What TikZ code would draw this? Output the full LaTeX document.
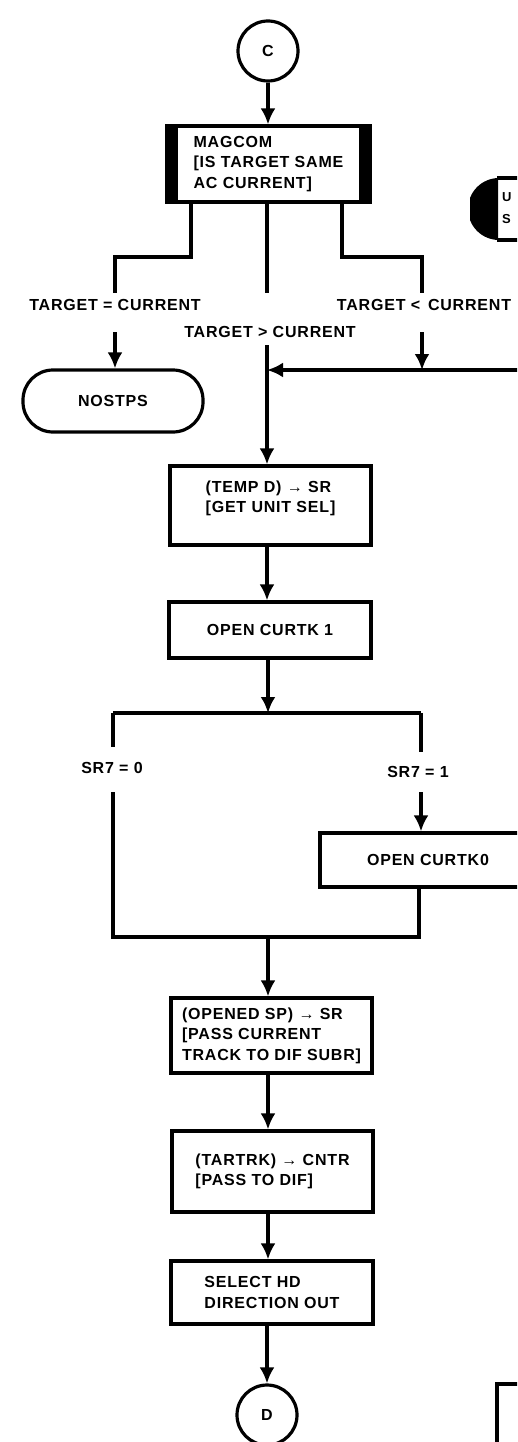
\documentclass[tikz,border=0pt]{standalone}
\usepackage{fontspec}
\setmainfont{Liberation Sans}[LetterSpace=5]
\usetikzlibrary{arrows.meta}
\newcommand{\txt}{\fontsize{16}{20.5}\selectfont\bfseries}
\tikzset{
  ln/.style={line width=3.2pt},
  arr/.style={ln, -{Latex[length=16pt,width=15pt]}},
  box/.style={draw, ln, rectangle, align=left, font=\txt, inner sep=0pt},
  conn/.style={draw, ln, circle, font=\txt, inner sep=0pt, minimum size=60pt},
  term/.style={draw, ln, rectangle, rounded corners=30pt, font=\txt, inner sep=0pt},
  lbl/.style={font=\txt, inner sep=0pt},
}
\begin{document}
\begin{tikzpicture}[x=1pt,y=-1pt]
\useasboundingbox (0,0) rectangle (517,1442);
\begin{scope}
\clip (0,0) rectangle (517,1442);
% nodes
\node[conn] (C) at (268,51) {C};
\node[box, minimum width=203pt, minimum height=76pt] (mag) at (268.5,164)
  {MAGCOM\\{[}IS TARGET SAME\\AC CURRENT{]}};
\fill (mag.north west) rectangle ([xshift=13pt]mag.south west);
\fill (mag.north east) rectangle ([xshift=-13pt]mag.south east);
\node[term, minimum width=180pt, minimum height=62pt] (nostps) at (113,401) {NOSTPS};
\node[box, minimum width=201pt, minimum height=79pt, text depth=18pt] (temp) at (270.5,505.5)
  {(TEMP D) → SR\\{[}GET UNIT SEL{]}};
\node[box, minimum width=202pt, minimum height=56pt] (open1) at (270,630) {OPEN CURTK 1};
\node[box, minimum width=216pt, minimum height=54pt] (open0) at (428,860) {OPEN CURTK0};
\node[box, minimum width=201pt, minimum height=75pt] (opened) at (271.5,1035.5)
  {(OPENED SP) → SR\\{[}PASS CURRENT\\TRACK TO DIF SUBR{]}};
\node[box, minimum width=201pt, minimum height=81pt] (tartrk) at (272.5,1171.5)
  {(TARTRK) → CNTR\\{[}PASS TO DIF{]}};
\node[box, minimum width=202pt, minimum height=63pt] (sel) at (272,1292.5)
  {SELECT HD\\DIRECTION OUT};
\node[conn] (D) at (267,1415) {D};
% labels
\node[lbl] (leq) at (115,305) {TARGET = CURRENT};
\node[lbl] (lgt) at (270,332) {TARGET > CURRENT};
\node[lbl] (llt) at (424,305) {TARGET <\, CURRENT};
\node[lbl] (l0) at (112,768) {SR7 = 0};
\node[lbl] (l1) at (418,772) {SR7 = 1};
% coordinates
\coordinate (eqk) at (191,257);
\coordinate (eqe) at (115,293);
\coordinate (eqs) at (115,332);
\coordinate (gte) at (267,293);
\coordinate (gts) at (267,345);
\coordinate (ltk) at (342,257);
\coordinate (lte) at (422,293);
\coordinate (lts) at (422,332);
\coordinate (join) at (422,370);
\coordinate (rin) at (540,370);
\coordinate (mrg) at (267,370);
\coordinate (split) at (268,713);
\coordinate (sl) at (113,713);
\coordinate (sr) at (421,713);
\coordinate (sle) at (113,747);
\coordinate (sls) at (113,792);
\coordinate (sre) at (421,752);
\coordinate (srs) at (421,792);
\coordinate (bl) at (113,937);
\coordinate (bc) at (268,937);
\coordinate (br) at (419,937);
% connectors
\draw[arr] (C) -- (C |- mag.north);
\draw[ln] (mag.south -| eqk) -- (eqk) -- (eqk -| eqe) -- (eqe);
\draw[ln] (mag.south -| gte) -- (gte);
\draw[ln] (mag.south -| ltk) -- (ltk) -- (ltk -| lte) -- (lte);
\draw[arr] (eqs) -- (eqs |- nostps.north);
\draw[arr] (gts) -- (gts |- temp.north);
\draw[arr] (lts) -- (join);
\draw[arr] (rin) -- (mrg);
\draw[arr] (temp.south -| gts) -- (gts |- open1.north);
\draw[arr] (open1.south -| split) -- (split);
\draw[ln] (sl) -- (sr);
\draw[ln] (sl) -- (sle);
\draw[ln] (sr) -- (sre);
\draw[ln] (sls) -- (bl) -- (br) -- (open0.south -| br);
\draw[arr] (srs) -- (srs |- open0.north);
\draw[arr] (bc) -- (bc |- opened.north);
\draw[arr] (opened.south -| bc) -- (bc |- tartrk.north);
\draw[arr] (tartrk.south -| bc) -- (bc |- sel.north);
\draw[arr] (sel.south -| D) -- (D);
% partial shapes at the right edge
\begin{scope}
\clip (470,170) rectangle (498,250);
\fill (499,209) circle[radius=31];
\end{scope}
\draw[ln] (497,178) -- (530,178);
\draw[ln] (497,240) -- (530,240);
\node[lbl, anchor=west, font=\fontsize{13}{15}\selectfont\bfseries] (pu) at (502,197) {U};
\node[lbl, anchor=west, font=\fontsize{13}{15}\selectfont\bfseries] (ps) at (502,219) {S};
\draw[ln] (530,1384) -- (497,1384) -- (497,1460);
\end{scope}
\end{tikzpicture}
\end{document}
